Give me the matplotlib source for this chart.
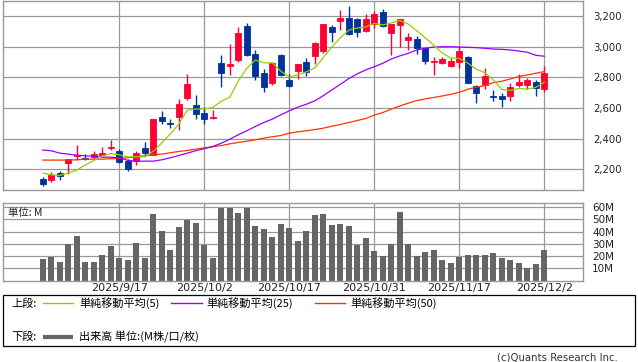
import matplotlib
matplotlib.use('Agg')
import matplotlib.pyplot as plt
import numpy as np

# ---------------- data ----------------
dates = ['9/3', '9/4', '9/5', '9/8', '9/9', '9/10', '9/11', '9/12', '9/16', '9/17',
         '9/18', '9/19', '9/22', '9/24', '9/25', '9/26', '9/29', '9/30', '10/1', '10/2',
         '10/3', '10/6', '10/7', '10/8', '10/9', '10/10', '10/14', '10/15', '10/16', '10/17',
         '10/20', '10/21', '10/22', '10/23', '10/24', '10/27', '10/28', '10/29', '10/30', '10/31',
         '11/4', '11/5', '11/6', '11/7', '11/10', '11/11', '11/12', '11/13', '11/14', '11/17',
         '11/18', '11/19', '11/20', '11/21', '11/25', '11/26', '11/27', '11/28', '12/1', '12/2']

opens = [2139, 2128, 2178, 2239, 2285, 2276, 2280, 2296, 2337, 2322,
         2256, 2254, 2341, 2293, 2545, 2504, 2541, 2666, 2621, 2569,
         2538, 2894, 2877, 2912, 3135, 2953, 2827, 2766, 2946, 2784,
         2844, 2901, 2938, 2972, 3128, 3167, 3187, 3180, 3102, 3148,
         3226, 3092, 3141, 3044, 3050, 2992, 2899, 2894, 2875, 2901,
         2933, 2747, 2753, 2677, 2677, 2681, 2749, 2753, 2773, 2727]
closes = [2105, 2161, 2155, 2267, 2293, 2270, 2302, 2309, 2348, 2246,
          2204, 2309, 2304, 2530, 2519, 2499, 2627, 2758, 2562, 2530,
          2543, 2831, 2888, 3089, 2946, 2810, 2740, 2892, 2816, 2747,
          2888, 2836, 3024, 3148, 3096, 3187, 3083, 3098, 3180, 3213,
          3135, 3148, 3180, 3063, 2992, 2907, 2907, 2920, 2907, 2972,
          2766, 2701, 2807, 2673, 2656, 2736, 2770, 2784, 2729, 2827]
highs = [2148, 2183, 2191, 2267, 2361, 2300, 2317, 2348, 2393, 2335,
         2267, 2322, 2380, 2530, 2582, 2532, 2660, 2823, 2686, 2604,
         2588, 2946, 3020, 3131, 3154, 2979, 2853, 2901, 2955, 2823,
         2888, 2927, 3031, 3148, 3144, 3239, 3265, 3187, 3213, 3233,
         3246, 3148, 3180, 3089, 3070, 2992, 2933, 2933, 2927, 3005,
         2940, 2753, 2864, 2718, 2701, 2762, 2823, 2797, 2784, 2873]
lows = [2094, 2115, 2128, 2172, 2263, 2259, 2267, 2285, 2324, 2241,
        2187, 2226, 2285, 2293, 2493, 2467, 2460, 2651, 2532, 2499,
        2528, 2740, 2816, 2901, 2942, 2784, 2705, 2751, 2807, 2740,
        2790, 2810, 2888, 2957, 3031, 3109, 3079, 3066, 3096, 3122,
        3128, 2946, 2998, 2979, 2953, 2888, 2816, 2888, 2868, 2864,
        2766, 2630, 2727, 2643, 2610, 2649, 2736, 2727, 2681, 2705]

volumes = [17.2, 19.1, 14.8, 29.5, 36.1, 15.5, 15.5, 20.5, 27.8, 18.0,
           16.4, 30.3, 18.0, 54.1, 40.1, 24.6, 43.5, 49.2, 46.7, 28.7,
           18.0, 59.5, 59.5, 54.9, 59.0, 44.3, 41.8, 35.2, 46.0, 42.6,
           32.0, 40.1, 53.3, 54.1, 45.1, 46.0, 44.3, 28.7, 34.4, 23.8,
           19.7, 29.5, 55.8, 29.5, 19.7, 22.9, 24.6, 16.4, 14.0, 18.9,
           20.5, 20.5, 20.5, 22.1, 18.0, 16.4, 14.0, 10.6, 13.1, 24.6]

ma5 = [2176, 2165, 2161, 2176, 2196, 2229, 2257, 2288, 2304, 2295,
       2282, 2283, 2282, 2319, 2373, 2432, 2496, 2587, 2593, 2595,
       2604, 2645, 2671, 2776, 2859, 2913, 2895, 2895, 2841, 2801,
       2817, 2836, 2862, 2929, 2998, 3058, 3108, 3122, 3129, 3152,
       3142, 3155, 3171, 3148, 3104, 3058, 3010, 2958, 2927, 2923,
       2894, 2853, 2831, 2784, 2721, 2715, 2728, 2724, 2735, 2769]
ma25 = [2326, 2322, 2306, 2300, 2293, 2289, 2285, 2280, 2280, 2276,
        2259, 2254, 2254, 2254, 2263, 2276, 2291, 2306, 2322, 2335,
        2350, 2371, 2397, 2426, 2452, 2480, 2506, 2528, 2556, 2582,
        2606, 2625, 2647, 2681, 2718, 2755, 2792, 2823, 2849, 2870,
        2892, 2920, 2940, 2957, 2979, 2990, 2998, 3000, 3000, 2998,
        2996, 2994, 2990, 2985, 2983, 2979, 2972, 2964, 2944, 2938]
ma50 = [2261, 2261, 2261, 2261, 2263, 2267, 2267, 2267, 2270, 2272,
        2276, 2283, 2289, 2296, 2300, 2309, 2317, 2324, 2332, 2341,
        2348, 2356, 2367, 2376, 2384, 2393, 2404, 2413, 2421, 2437,
        2445, 2452, 2460, 2469, 2482, 2493, 2506, 2519, 2532, 2554,
        2571, 2593, 2614, 2632, 2649, 2660, 2669, 2679, 2690, 2703,
        2723, 2736, 2747, 2766, 2775, 2790, 2805, 2816, 2827, 2838]

tick_dates = ['9/17', '10/2', '10/17', '10/31', '11/17', '12/2']
tick_year = '2025'
price_ticks = [2200, 2400, 2600, 2800, 3000, 3200]
volume_ticks = [10, 20, 30, 40, 50, 60]

legend_upper = ['単純移動平均(5)', '単純移動平均(25)', '単純移動平均(50)']
legend_lower = '出来高 単位:(M株/口/枚)'

# ---------------- style ----------------
W, H = 638, 362
GRID = '#999999'
UP = '#FF0033'
DOWN = '#003399'
C5, C25, C50 = '#99CC00', '#9900FF', '#FF3300'
VOL = '#666666'
JP = ['Noto Sans CJK JP', 'DejaVu Sans']

fig = plt.figure(figsize=(W / 100, H / 100), dpi=100)


def rect(x0, y0, x1, y1):
    return [x0 / W, 1 - y1 / H, (x1 - x0) / W, (y1 - y0) / H]


x = np.arange(len(dates))
xlim = ((3.3 - 42.8) / 8.5, (582.5 - 42.8) / 8.5)
tick_idx = [dates.index(d) for d in tick_dates]

axp = fig.add_axes(rect(3.3, 0.7, 582.5, 190))
axv = fig.add_axes(rect(3.3, 202.7, 582.5, 280.5))

for ax in (axp, axv):
    ax.set_xlim(*xlim)
    for s in ax.spines.values():
        s.set_color(GRID)
        s.set_linewidth(1.0)
    for t in tick_idx:
        ax.axvline(t, color=GRID, lw=0.9, zorder=0)
    ax.tick_params(length=0)
    ax.yaxis.tick_right()

# price panel
axp.set_ylim(2066, 3300)
for p in price_ticks:
    axp.axhline(p, color=GRID, lw=0.9, zorder=0)
axp.set_yticks(price_ticks)
axp.set_yticklabels([f'{p:,}' for p in price_ticks], fontsize=7.3, color='#222222')
axp.tick_params(axis='y', pad=7.5)
axp.set_xticks([])

o = np.array(opens, float)
c = np.array(closes, float)
cols = [UP if cc >= oo else DOWN for oo, cc in zip(o, c)]
axp.vlines(x, lows, highs, colors=cols, lw=1.0, zorder=2)
axp.bar(x, np.abs(c - o), bottom=np.minimum(o, c), width=0.66, color=cols,
        edgecolor=cols, linewidth=0.6, zorder=3)
axp.plot(x, ma50, color=C50, lw=0.9, zorder=4)
axp.plot(x, ma25, color=C25, lw=0.9, zorder=4)
axp.plot(x, ma5, color=C5, lw=0.9, zorder=4)

# volume panel
axv.set_ylim(0, 63.6)
for v in volume_ticks:
    axv.axhline(v, color=GRID, lw=0.9, zorder=0)
axv.bar(x, volumes, width=0.66, color=VOL, zorder=2)
axv.set_yticks(volume_ticks)
axv.set_yticklabels([f'{v}M' for v in volume_ticks], fontsize=7.5, color='#222222')
axv.tick_params(axis='y', pad=7)
axv.set_xticks(tick_idx)
axv.set_xticklabels([f'{tick_year}/{d}' for d in tick_dates], fontsize=8, color='#222222')
axv.tick_params(axis='x', pad=1.5)
axv.text(0.008, 0.93, '単位: M', transform=axv.transAxes, fontsize=7.5,
         family=JP, va='top', ha='left', color='#222222')

# legend / footer (pixel coordinates)
ov = fig.add_axes([0, 0, 1, 1], facecolor='none')
ov.set_xlim(0, W)
ov.set_ylim(H, 0)
ov.axis('off')
ov.add_patch(plt.Rectangle((3.3, 295.3), 631.4, 51.0, fill=False, ec='black', lw=0.9))

ov.text(11.5, 303.3, '上段:', fontsize=8, family=JP, va='center', ha='left')
ov.plot([43, 73], [303.3, 303.3], color=C5, lw=1.0)
ov.text(79, 303.3, legend_upper[0], fontsize=8, family=JP, va='center', ha='left')
ov.plot([171, 202], [303.3, 303.3], color=C25, lw=1.0)
ov.text(206.7, 303.3, legend_upper[1], fontsize=8, family=JP, va='center', ha='left')
ov.plot([315, 345], [303.3, 303.3], color=C50, lw=1.0)
ov.text(350.3, 303.3, legend_upper[2], fontsize=8, family=JP, va='center', ha='left')

ov.text(11.5, 336.7, '下段:', fontsize=8, family=JP, va='center', ha='left')
ov.plot([43, 73], [336.7, 336.7], color=VOL, lw=3.0, solid_capstyle='butt')
ov.text(79, 336.7, legend_lower, fontsize=8, family=JP, va='center', ha='left')

ov.text(618, 357.5, '(c)Quants Research Inc.', fontsize=7.3, va='center', ha='right',
        color='#333333')

fig.savefig('out.png', dpi=100)
